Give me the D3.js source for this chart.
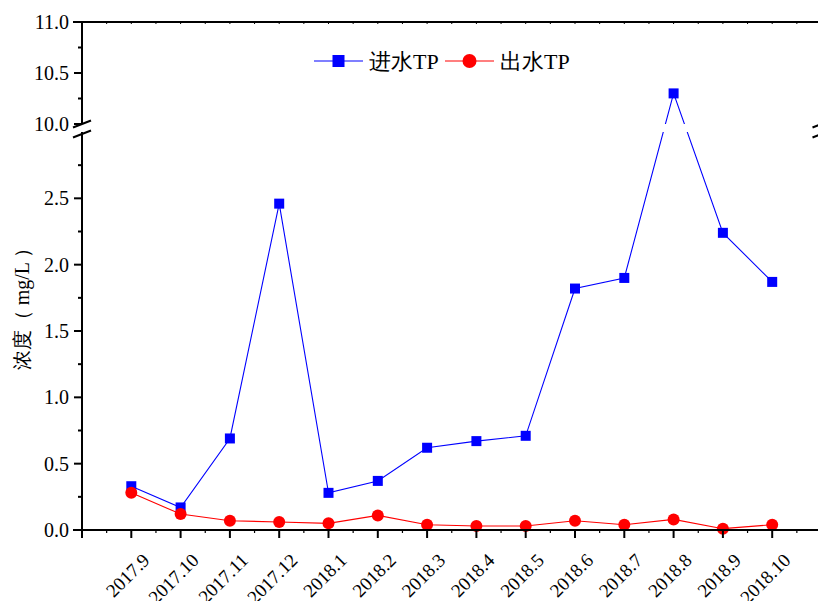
<!DOCTYPE html>
<html>
<head>
<meta charset="utf-8">
<script src="https://cdn.jsdelivr.net/npm/d3@7"></script>
<style>
  html, body { margin: 0; padding: 0; background: #fff; }
  svg { display: block; }
</style>
</head>
<body>
<svg id="chart" width="818" height="601"></svg>
<script>
// Monthly total phosphorus, influent vs effluent (mg/L)
const months = ["2017.9", "2017.10", "2017.11", "2017.12", "2018.1", "2018.2", "2018.3",
                "2018.4", "2018.5", "2018.6", "2018.7", "2018.8", "2018.9", "2018.10"];
const influentTP = [0.33, 0.17, 0.69, 2.46, 0.28, 0.37, 0.62, 0.67, 0.71, 1.82, 1.90, 10.3, 2.24, 1.87];
const effluentTP = [0.28, 0.12, 0.07, 0.06, 0.05, 0.11, 0.04, 0.03, 0.03, 0.07, 0.04, 0.08, 0.01, 0.04];
const seriesNames = ["进水TP", "出水TP"];
const lowerTicks = [0, 0.5, 1.0, 1.5, 2.0, 2.5];
const upperTicks = [10.0, 10.5, 11.0];
const yTitle = "浓度（ mg/L ）";

const SERIF = '"Liberation Serif"';
const svg = d3.select("#chart");

// Geometry
const plotLeft = 82, plotTop = 22, plotBottom = 530;
const step = 49.3;
const plotRight = plotLeft + 15 * step;
const lowerTopPx = 132, upperBottomPx = 124;   // broken y-axis gap

const x = d3.scaleLinear().domain([0, 15]).range([plotLeft, plotRight]);
// Piecewise y: 0–3 on the lower panel, 10–11 on the upper panel
const y = d3.scaleLinear().domain([0, 3, 10, 11]).range([plotBottom, lowerTopPx, upperBottomPx, plotTop]);

// Clip regions so lines skip the break gap
const defs = svg.append("defs");
const clip = defs.append("clipPath").attr("id", "panels");
clip.append("rect").attr("x", 0).attr("y", 0).attr("width", 818).attr("height", upperBottomPx);
clip.append("rect").attr("x", 0).attr("y", lowerTopPx).attr("width", 818).attr("height", 601 - lowerTopPx);

const xi = (d, i) => x(i + 1);

// Lines
const line = d3.line().x(xi).y(d => y(d));
const plot = svg.append("g");
plot.append("path").datum(influentTP)
  .attr("d", line).attr("fill", "none").attr("stroke", "#0000ff").attr("stroke-width", 1.1)
  .attr("clip-path", "url(#panels)");
plot.append("path").datum(effluentTP)
  .attr("d", line).attr("fill", "none").attr("stroke", "#ff0000").attr("stroke-width", 1.1)
  .attr("clip-path", "url(#panels)");

// Markers
const sq = 10;
plot.selectAll("rect.in").data(influentTP).join("rect").attr("class", "in")
  .attr("x", (d, i) => xi(d, i) - sq / 2).attr("y", d => y(d) - sq / 2)
  .attr("width", sq).attr("height", sq).attr("fill", "#0000ff");
plot.selectAll("circle.out").data(effluentTP).join("circle").attr("class", "out")
  .attr("cx", xi).attr("cy", d => y(d)).attr("r", 6).attr("fill", "#ff0000");

// Axes
const ax = svg.append("g").attr("stroke", "#000").attr("stroke-width", 2).attr("fill", "none");

// bottom axis
ax.append("line").attr("x1", plotLeft - 9).attr("x2", plotRight + 9).attr("y1", plotBottom).attr("y2", plotBottom);
d3.range(0, 16).forEach(v => {
  ax.append("line").attr("x1", x(v)).attr("x2", x(v)).attr("y1", plotBottom).attr("y2", plotBottom + 8);
});
d3.range(0.5, 15, 1).forEach(v => {
  ax.append("line").attr("x1", x(v)).attr("x2", x(v)).attr("y1", plotBottom).attr("y2", plotBottom + 3).attr("stroke-width", 1.2);
});

// top axis
ax.append("line").attr("x1", plotLeft - 9).attr("x2", plotRight + 9).attr("y1", plotTop).attr("y2", plotTop);
d3.range(0.5, 15, 0.5).forEach(v => {
  ax.append("line").attr("x1", x(v)).attr("x2", x(v)).attr("y1", plotTop).attr("y2", plotTop + 2).attr("stroke-width", 1);
});

// vertical axis: two segments with break gap
function vAxis(px) {
  ax.append("line").attr("x1", px).attr("x2", px).attr("y1", plotTop).attr("y2", upperBottomPx);
  ax.append("line").attr("x1", px).attr("x2", px).attr("y1", lowerTopPx).attr("y2", plotBottom + 8);
  // break marks
  [upperBottomPx, lowerTopPx + 2].forEach(cy => {
    ax.append("line").attr("x1", px - 9).attr("y1", cy + 3.5).attr("x2", px + 9).attr("y2", cy - 3.5);
  });
}
vAxis(plotLeft);
vAxis(plotRight);

const labels = svg.append("g");
lowerTicks.concat(upperTicks).forEach(v => {
  ax.append("line").attr("x1", plotLeft - 8).attr("x2", plotLeft).attr("y1", y(v)).attr("y2", y(v));
  labels.append("text").attr("x", plotLeft - 13).attr("y", y(v)).attr("dy", "0.35em")
    .attr("text-anchor", "end").attr("font-size", 20).style("font-family", SERIF)
    .text(v.toFixed(1));
});
[0.25, 0.75, 1.25, 1.75, 2.25, 2.75, 10.25, 10.75].forEach(v => {
  ax.append("line").attr("x1", plotLeft - 4).attr("x2", plotLeft).attr("y1", y(v)).attr("y2", y(v));
});

// x tick labels, rotated
const xl = svg.append("g");
months.forEach((m, i) => {
  const px = x(i + 1) + 10, py = 552;
  xl.append("text").attr("text-anchor", "end").attr("font-size", 19).style("font-family", SERIF)
    .attr("transform", `translate(${px},${py}) rotate(-45)`)
    .attr("dy", "0.7em").text(m);
});

// y title
svg.append("text").attr("font-size", 20).attr("text-anchor", "middle").style("font-family", SERIF)
  .attr("transform", `translate(29,304) rotate(-90)`).text(yTitle);

// Legend
const lg = svg.append("g");
const legendItems = [
  { name: seriesNames[0], color: "#0000ff", shape: "square", x0: 314 },
  { name: seriesNames[1], color: "#ff0000", shape: "circle", x0: 445 }
];
legendItems.forEach(it => {
  const ly = 61;
  lg.append("line").attr("x1", it.x0).attr("x2", it.x0 + 49).attr("y1", ly).attr("y2", ly)
    .attr("stroke", it.color).attr("stroke-width", 1.1);
  if (it.shape === "square") {
    lg.append("rect").attr("x", it.x0 + 24.5 - 6).attr("y", ly - 6).attr("width", 12).attr("height", 12).attr("fill", it.color);
  } else {
    lg.append("circle").attr("cx", it.x0 + 24.5).attr("cy", ly).attr("r", 7).attr("fill", it.color);
  }
  lg.append("text").attr("x", it.x0 + 55).attr("y", ly).attr("dy", "0.36em")
    .attr("font-size", 22).style("font-family", SERIF).text(it.name);
});
</script>
</body>
</html>
